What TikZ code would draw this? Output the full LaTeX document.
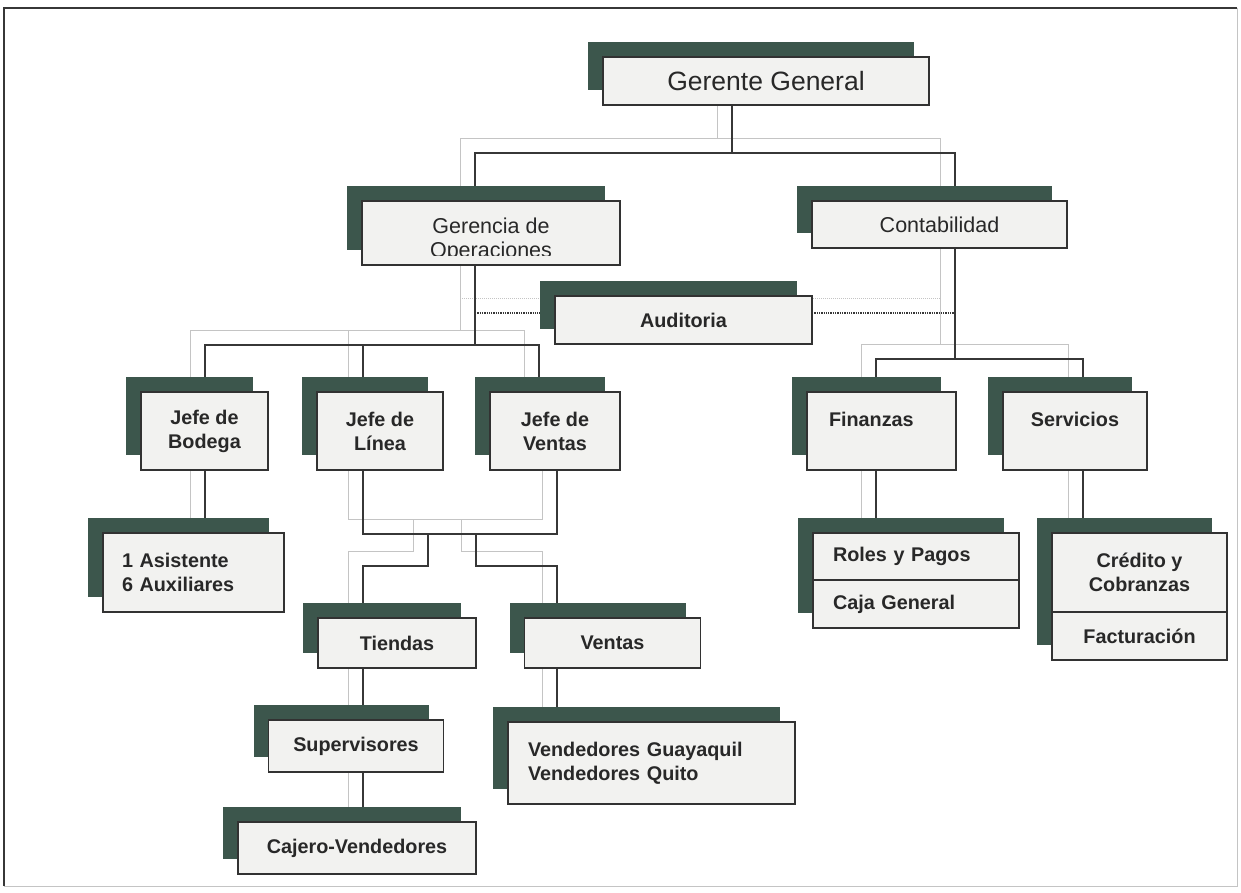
\documentclass[tikz,border=0pt]{standalone}
\usepackage{fontspec}
\setmainfont{Liberation Sans}
\usetikzlibrary{positioning, shadows, backgrounds}
\definecolor{orgshade}{RGB}{60,86,76}
\definecolor{orgedge}{RGB}{50,50,50}
\definecolor{orgfill}{RGB}{242,242,240}
\definecolor{orgtext}{RGB}{40,40,40}
\definecolor{orgwire}{RGB}{55,55,55}
\definecolor{orgghost}{RGB}{196,196,196}
\tikzset{
  orgbox/.style={rectangle, draw=orgedge, line width=1.5pt, fill=orgfill,
                 minimum width=#1, inner sep=0pt, outer sep=0pt, align=center, text=orgtext,
                 drop shadow={shadow xshift=-15pt, shadow yshift=15pt, fill=orgshade, opacity=1}},
  orgbox/.default=150,
  topfont/.style={font=\fontsize{26.5}{30}\selectfont},
  midfont/.style={font=\fontsize{21.5}{24}\selectfont},
  lowfont/.style={font=\fontsize{19.8}{24}\selectfont\bfseries},
  link/.style={draw=orgwire, line width=1.3pt},
  ghost/.style={draw=orgghost, line width=1pt},
}
% all connectors of the chart, drawn once per style
\newcommand{\orgwires}[1]{%
  \draw[#1] (gg.south -| ggbus) -- (ggbus);
  \draw[#1] (go.north -| ggl) |- (ggr) -- (cont.north -| ggr);
  \draw[#1] (go.south -| gobus) -- (gobus);
  \draw[#1] (jb.north -| gol) |- (gor) -- (jv.north -| gor);
  \draw[#1] (gom) -- (jl.north -| gom);
  \draw[#1, densely dotted] (audl) -- (aud.west |- audl);
  \draw[#1, densely dotted] (aud.east |- audr) -- (audr);
  \draw[#1] (cont.south -| cobus) -- (cobus);
  \draw[#1] (fin.north -| col) |- (cor) -- (serv.north -| cor);
  \draw[#1] (jb.south -| gol) -- (asis.north -| gol);
  \draw[#1] (jl.south -| jfl) |- (jfr) -- (jv.south -| jfr);
  \draw[#1] (jfa) |- (tdl) -- (tien.north -| tdl);
  \draw[#1] (jfb) |- (vtr) -- (vent.north -| vtr);
  \draw[#1] (tien.south -| tdl) -- (sup.north -| tdl);
  \draw[#1] (sup.south -| tdl) -- (caj.north -| tdl);
  \draw[#1] (vent.south -| vtr) -- (vend.north -| vtr);
  \draw[#1] (fin.south -| col) -- (rolesa.north -| col);
  \draw[#1] (serv.south -| cor) -- (creda.north -| cor);
}
\begin{document}
\begin{tikzpicture}[x=1pt, y=-1pt]
  \useasboundingbox (0,0) rectangle (1241,892);
  % outer frame
  \draw[orgghost, line width=1pt] (1237,8) -- (1237,886) -- (4,886);
  \draw[orgwire, line width=1.2pt] (4,886) -- (4,8) -- (1237,8);

  % top and second level
  \node[orgbox=326, minimum height=48, topfont] (gg) at (766,81) {Gerente General};
  \node[orgbox=258, minimum height=64, path picture={
      \clip ([yshift=10pt]path picture bounding box.south west) rectangle (path picture bounding box.north east);
      \node[midfont, text=orgtext, align=center, anchor=north, inner sep=0pt]
        at ([yshift=-6.5pt]path picture bounding box.north) {Gerencia de\\Operaciones};
    }] (go) at (491,233) {};
  \node[orgbox=255, minimum height=47, midfont] (cont) at (939.5,224.5) {Contabilidad};
  \node[orgbox=257, minimum height=48, lowfont] (aud) at (683.5,320) {Auditoria};

  % jefes and contabilidad units
  \node[orgbox=127, minimum height=78, lowfont] (jb) at (204.5,431) {Jefe de\\Bodega};
  \node[orgbox=126, minimum height=78, lowfont] (jl) at (380,431) {Jefe de\\Línea};
  \node[orgbox=130, minimum height=78, lowfont] (jv) at (555,431) {Jefe de\\Ventas};
  \node[orgbox=149, minimum height=78, lowfont, text width=105, align=left] (fin) at (881.5,431) {Finanzas\\\mbox{}};
  \node[orgbox=144, minimum height=78, lowfont] (serv) at (1075,431) {Servicios\\\mbox{}};

  % lower level
  \node[orgbox=181, minimum height=79, lowfont, text width=143, align=left] (asis) at (193.5,572.5) {1 Asistente\\6 Auxiliares};
  \node[orgbox=206, minimum height=48, lowfont, text width=166, align=left] (rolesb) at (916,604) {Caja General};
  \node[orgbox=206, minimum height=47, lowfont, text width=166, align=left, above=0pt of rolesb] (rolesa) {Roles y Pagos};
  \node[orgbox=175, minimum height=48, lowfont] (credb) at (1139.5,636) {Facturación};
  \node[orgbox=175, minimum height=79, lowfont, above=0pt of credb] (creda) {Crédito y\\Cobranzas};
  \node[orgbox=158, minimum height=50, lowfont] (tien) at (397,643) {Tiendas};
  \node[orgbox=176, minimum height=50, lowfont] (vent) at (612.5,643) {Ventas};
  \node[orgbox=175, minimum height=52, lowfont] (sup) at (356,746) {Supervisores};
  \node[orgbox=287, minimum height=82, lowfont, text width=247, align=left] (vend) at (651.5,763) {Vendedores Guayaquil\\Vendedores Quito};
  \node[orgbox=238, minimum height=52, lowfont] (caj) at (357,848) {Cajero-Vendedores};

  % bus points
  \coordinate (ggbus) at (732,153);
  \coordinate (ggl) at (475,153);
  \coordinate (ggr) at (955,153);
  \coordinate (gobus) at (475,345);
  \coordinate (gol) at (205,345);
  \coordinate (gom) at (363,345);
  \coordinate (gor) at (539,345);
  \coordinate (audl) at (475,313);
  \coordinate (audr) at (955,313);
  \coordinate (cobus) at (955,359);
  \coordinate (col) at (876,359);
  \coordinate (cor) at (1083,359);
  \coordinate (jfl) at (363,534);
  \coordinate (jfr) at (557,534);
  \coordinate (jfa) at (428,534);
  \coordinate (jfb) at (476,534);
  \coordinate (tdl) at (363,566);
  \coordinate (vtr) at (557,566);

  % connectors behind the boxes, with their faint offset copy
  \begin{scope}[on background layer]
    \begin{scope}[transform canvas={shift={(-15,-15)}}]
      \orgwires{ghost}
    \end{scope}
    \orgwires{link}
  \end{scope}
\end{tikzpicture}
\end{document}
